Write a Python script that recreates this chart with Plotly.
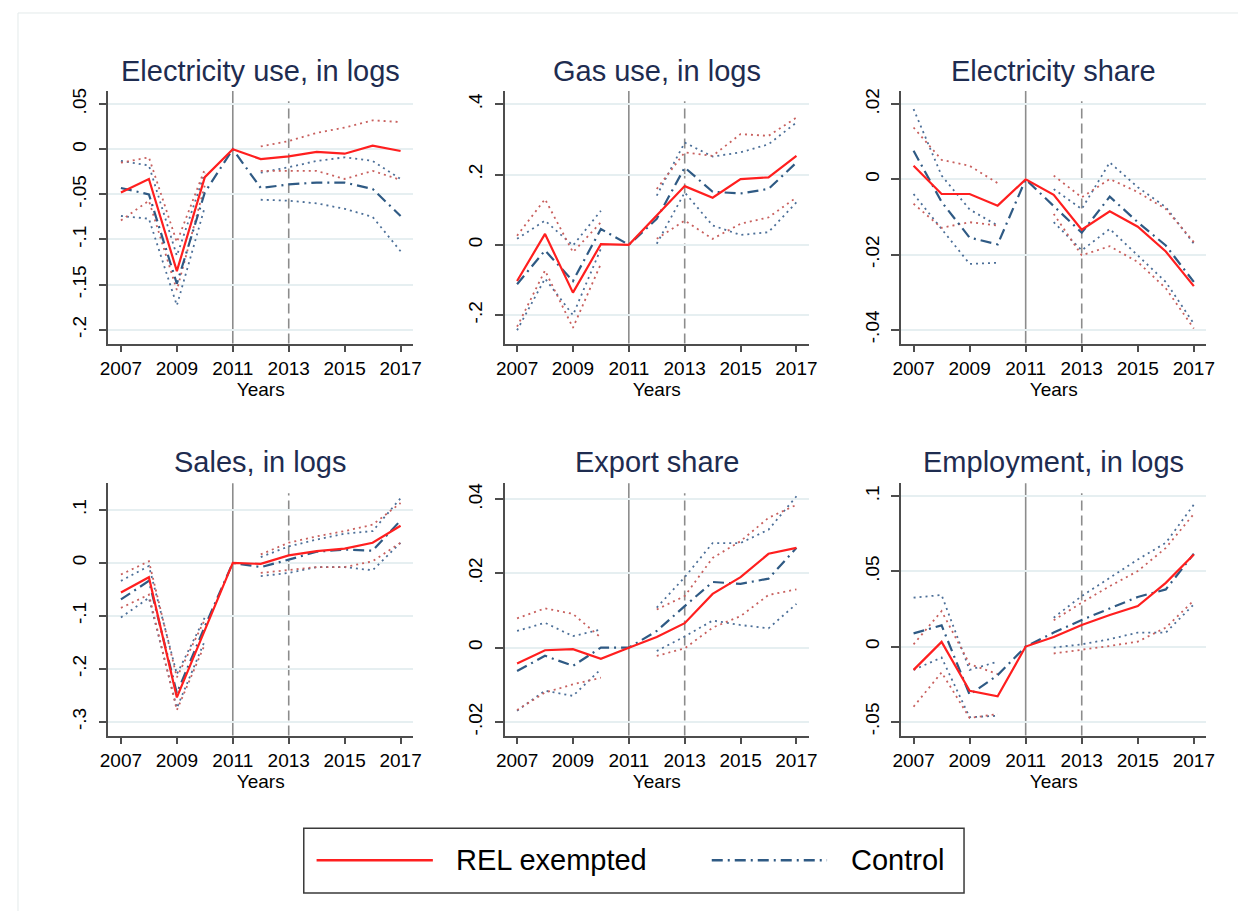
import plotly.graph_objects as go

# ---------------- data ----------------
years = [2007, 2008, 2009, 2010, 2011, 2012, 2013, 2014, 2015, 2016, 2017]
x_tickvals = [2007, 2009, 2011, 2013, 2015, 2017]
x_ticktext = ["2007", "2009", "2011", "2013", "2015", "2017"]

titles = ["Electricity use, in logs", "Gas use, in logs", "Electricity share",
          "Sales, in logs", "Export share", "Employment, in logs"]

# Electricity use
elec_rel = [-0.048, -0.033, -0.135, -0.031, 0, -0.011, -0.008, -0.003, -0.005, 0.004, -0.002]
elec_ctl = [-0.043, -0.050, -0.149, -0.048, 0, -0.043, -0.039, -0.037, -0.037, -0.044, -0.074]
elec_rel_hi = [-0.015, -0.009, -0.103, -0.022, None, 0.003, 0.009, 0.018, 0.024, 0.032, 0.030]
elec_rel_lo = [-0.079, -0.057, -0.156, -0.040, None, -0.024, -0.024, -0.024, -0.033, -0.024, -0.034]
elec_ctl_hi = [-0.013, -0.018, -0.118, -0.026, None, -0.026, -0.020, -0.013, -0.009, -0.013, -0.033]
elec_ctl_lo = [-0.074, -0.077, -0.173, -0.064, None, -0.056, -0.057, -0.060, -0.066, -0.075, -0.113]

# Gas use
gas_rel = [-0.103, 0.031, -0.136, 0.002, 0, 0.083, 0.167, 0.134, 0.187, 0.192, 0.253]
gas_ctl = [-0.112, -0.016, -0.103, 0.045, 0, 0.074, 0.220, 0.151, 0.146, 0.159, 0.234]
gas_rel_hi = [0.026, 0.130, -0.021, 0.064, None, 0.159, 0.263, 0.253, 0.315, 0.310, 0.362]
gas_rel_lo = [-0.233, -0.073, -0.236, -0.054, None, 0.017, 0.069, 0.017, 0.060, 0.078, 0.135]
gas_ctl_hi = [0.017, 0.069, -0.002, 0.097, None, 0.140, 0.291, 0.251, 0.263, 0.286, 0.348]
gas_ctl_lo = [-0.243, -0.096, -0.200, -0.011, None, 0.003, 0.149, 0.055, 0.028, 0.036, 0.121]

# Electricity share
esh_rel = [0.0036, -0.0039, -0.0039, -0.0070, 0, -0.0041, -0.0134, -0.0085, -0.0126, -0.0192, -0.0284]
esh_ctl = [0.0076, -0.0060, -0.0155, -0.0173, 0, -0.0070, -0.0142, -0.0046, -0.0114, -0.0176, -0.0273]
esh_rel_hi = [0.0138, 0.0052, 0.0036, -0.0010, None, 0.0010, -0.0048, 0.0001, -0.0034, -0.0079, -0.0167]
esh_rel_lo = [-0.0065, -0.0129, -0.0114, -0.0123, None, -0.0092, -0.0202, -0.0178, -0.0220, -0.0290, -0.0397]
esh_ctl_hi = [0.0187, 0.0010, -0.0080, -0.0123, None, -0.0026, -0.0079, 0.0045, -0.0021, -0.0074, -0.0171]
esh_ctl_lo = [-0.0039, -0.0132, -0.0225, -0.0222, None, -0.0114, -0.0189, -0.0132, -0.0202, -0.0273, -0.0384]

# Sales
sal_rel = [-0.056, -0.027, -0.254, -0.127, 0, -0.002, 0.014, 0.022, 0.027, 0.038, 0.070]
sal_ctl = [-0.069, -0.034, -0.246, -0.120, 0, -0.008, 0.006, 0.021, 0.025, 0.023, 0.080]
sal_rel_hi = [-0.022, 0.003, -0.216, -0.107, None, 0.016, 0.038, 0.050, 0.060, 0.072, 0.113]
sal_rel_lo = [-0.085, -0.060, -0.278, -0.154, None, -0.019, -0.013, -0.008, -0.008, 0.003, 0.038]
sal_ctl_hi = [-0.034, -0.006, -0.210, -0.103, None, 0.011, 0.031, 0.044, 0.055, 0.060, 0.122]
sal_ctl_lo = [-0.103, -0.066, -0.274, -0.147, None, -0.025, -0.019, -0.008, -0.008, -0.014, 0.038]

# Export share
exp_rel = [-0.0043, -0.0007, -0.0004, -0.0030, 0, 0.0029, 0.0066, 0.0145, 0.0190, 0.0253, 0.0269]
exp_ctl = [-0.0063, -0.0022, -0.0049, 0.0000, 0, 0.0045, 0.0112, 0.0177, 0.0172, 0.0186, 0.0269]
exp_rel_hi = [0.0079, 0.0106, 0.0091, 0.0027, None, 0.0103, 0.0139, 0.0242, 0.0287, 0.0350, 0.0385]
exp_rel_lo = [-0.0168, -0.0121, -0.0099, -0.0081, None, -0.0022, -0.0002, 0.0054, 0.0085, 0.0142, 0.0157]
exp_ctl_hi = [0.0045, 0.0067, 0.0031, 0.0049, None, 0.0108, 0.0190, 0.0282, 0.0282, 0.0318, 0.0408]
exp_ctl_lo = [-0.0170, -0.0116, -0.0130, -0.0058, None, -0.0009, 0.0030, 0.0073, 0.0061, 0.0052, 0.0118]

# Employment
emp_rel = [-0.0155, 0.0031, -0.0294, -0.0331, 0, 0.0064, 0.0144, 0.0210, 0.0270, 0.0424, 0.0612]
emp_ctl = [0.0088, 0.0141, -0.0320, -0.0190, 0, 0.0093, 0.0177, 0.0254, 0.0330, 0.0380, 0.0617]
emp_rel_hi = [0.0015, 0.0236, -0.0117, -0.0183, None, 0.0175, 0.0292, 0.0402, 0.0502, 0.0656, 0.0882]
emp_rel_lo = [-0.0400, -0.0172, -0.0475, -0.0449, None, -0.0046, -0.0022, 0.0004, 0.0033, 0.0126, 0.0307]
emp_ctl_hi = [0.0325, 0.0343, -0.0155, -0.0100, None, 0.0192, 0.0336, 0.0457, 0.0579, 0.0690, 0.0944]
emp_ctl_lo = [-0.0155, -0.0073, -0.0470, -0.0460, None, -0.0007, 0.0015, 0.0049, 0.0093, 0.0093, 0.0281]

y_tickvals = [
    [0.05, 0, -0.05, -0.1, -0.15, -0.2],
    [0.4, 0.2, 0, -0.2],
    [0.02, 0, -0.02, -0.04],
    [0.1, 0, -0.1, -0.2, -0.3],
    [0.04, 0.02, 0, -0.02],
    [0.1, 0.05, 0, -0.05],
]
y_ticktext = [
    [".05", "0", "-.05", "-.1", "-.15", "-.2"],
    [".4", ".2", "0", "-.2"],
    [".02", "0", "-.02", "-.04"],
    [".1", "0", "-.1", "-.2", "-.3"],
    [".04", ".02", "0", "-.02"],
    [".1", ".05", "0", "-.05"],
]
y_ranges = [
    [-0.2153, 0.0644],
    [-0.281, 0.4375],
    [-0.0437, 0.0235],
    [-0.326, 0.1505],
    [-0.0237, 0.04435],
    [-0.0592, 0.1087],
]

panels = [
    (elec_rel, elec_ctl, elec_rel_hi, elec_rel_lo, elec_ctl_hi, elec_ctl_lo),
    (gas_rel, gas_ctl, gas_rel_hi, gas_rel_lo, gas_ctl_hi, gas_ctl_lo),
    (esh_rel, esh_ctl, esh_rel_hi, esh_rel_lo, esh_ctl_hi, esh_ctl_lo),
    (sal_rel, sal_ctl, sal_rel_hi, sal_rel_lo, sal_ctl_hi, sal_ctl_lo),
    (exp_rel, exp_ctl, exp_rel_hi, exp_rel_lo, exp_ctl_hi, exp_ctl_lo),
    (emp_rel, emp_ctl, emp_rel_hi, emp_rel_lo, emp_ctl_hi, emp_ctl_lo),
]

# ---------------- styling ----------------
OFF = 8                      # page body margin offset
W, H = 1246 - OFF, 911 - OFF
FONT = "Liberation Sans, Arial, Helvetica, sans-serif"
RED = "#ff1f1f"
BLUE = "#2f5a84"
RED_DOT = "#c8605e"
BLUE_DOT = "#4c6f98"
AXIS = "#4d4d4d"
GRID = "#e6eff1"
TITLE_C = "#1e2c50"
VLINE = "#8c8c8c"


def px(x):
    return (x - OFF) / W


def py(y):
    return 1 - (y - OFF) / H


col_px = [(100.7, 410.0), (502.7, 811.7), (905.0, 1215.0)]
row_px = [(88.3, 341.7), (481.7, 735.0)]
title_y = [68, 461]

fig = go.Figure()
layout = dict(
    width=W, height=H,
    margin=dict(l=0, r=0, t=0, b=0, pad=0),
    paper_bgcolor="white", plot_bgcolor="white",
    showlegend=False,
    font=dict(family=FONT, color="black"),
)
annotations = []
shapes = []

for i, (rel, ctl, rhi, rlo, chi, clo) in enumerate(panels):
    r, c = divmod(i, 3)
    k = i + 1
    xa = "x" if k == 1 else f"x{k}"
    ya = "y" if k == 1 else f"y{k}"
    for ser, col in ((chi, BLUE_DOT), (clo, BLUE_DOT), (rhi, RED_DOT), (rlo, RED_DOT)):
        fig.add_trace(go.Scatter(x=years, y=ser, mode="lines", xaxis=xa, yaxis=ya,
                                 line=dict(color=col, width=1.8, dash="2px,4px"),
                                 connectgaps=False, hoverinfo="skip"))
    fig.add_trace(go.Scatter(x=years, y=ctl, mode="lines", xaxis=xa, yaxis=ya,
                             name="Control",
                             line=dict(color=BLUE, width=2.2, dash="11px,5px,2px,5px")))
    fig.add_trace(go.Scatter(x=years, y=rel, mode="lines", xaxis=xa, yaxis=ya,
                             name="REL exempted",
                             line=dict(color=RED, width=2.2)))

    x0, x1 = col_px[c]
    y0, y1 = row_px[r]
    layout["xaxis" + ("" if k == 1 else str(k))] = dict(
        domain=[px(x0), px(x1)], anchor=ya, range=[2006.55, 2017.45],
        tickvals=x_tickvals, ticktext=x_ticktext, ticks="outside", ticklen=7,
        tickwidth=1.5, tickcolor=AXIS, showline=True, linecolor=AXIS, linewidth=1.6,
        showgrid=False, zeroline=False, tickfont=dict(size=19, color="black"),
        title=dict(text="Years", font=dict(size=19, color="black"), standoff=2),
        fixedrange=True,
    )
    layout["yaxis" + ("" if k == 1 else str(k))] = dict(
        domain=[py(y1), py(y0)], anchor=xa, range=y_ranges[i],
        tickvals=y_tickvals[i], ticktext=y_ticktext[i], ticks="outside", ticklen=8,
        ticklabelstandoff=5,
        tickwidth=1.5, tickcolor=AXIS, showline=True, linecolor=AXIS, linewidth=1.6,
        showgrid=True, gridcolor=GRID, gridwidth=1.6, zeroline=False,
        tickangle=-90, tickfont=dict(size=19, color="black"), fixedrange=True,
    )
    annotations.append(dict(
        text=titles[i], xref="paper", yref="paper", x=px((x0 + x1) / 2), y=py(title_y[r]),
        xanchor="center", yanchor="middle", showarrow=False,
        font=dict(size=29, color=TITLE_C, family=FONT)))
    shapes.append(dict(type="line", xref=xa, yref=f"{ya} domain", x0=2011, x1=2011, y0=0, y1=1,
                       line=dict(color=VLINE, width=1.6), layer="below"))
    shapes.append(dict(type="line", xref=xa, yref=f"{ya} domain", x0=2013, x1=2013, y0=0, y1=0.96,
                       line=dict(color=VLINE, width=1.6, dash="10px,5px"), layer="below"))

# outer faint frame
shapes.append(dict(type="rect", xref="paper", yref="paper", x0=px(9), x1=px(1300), y0=py(1000), y1=py(10),
                   line=dict(color="#e3eaea", width=1), fillcolor="rgba(0,0,0,0)", layer="below"))

# legend box (drawn manually to match the long key samples)
leg_y = 860
shapes.append(dict(type="rect", xref="paper", yref="paper", x0=px(299), x1=px(969), y0=py(893), y1=py(828),
                   line=dict(color="#3a3a3a", width=1.5), fillcolor="rgba(0,0,0,0)", layer="above"))
shapes.append(dict(type="line", xref="paper", yref="paper", x0=px(312), x1=px(430), y0=py(leg_y), y1=py(leg_y),
                   line=dict(color=RED, width=2.5), layer="above"))
shapes.append(dict(type="line", xref="paper", yref="paper", x0=px(713), x1=px(830), y0=py(leg_y), y1=py(leg_y),
                   line=dict(color=BLUE, width=2.5, dash="11px,5px,2px,5px"), layer="above"))
annotations.append(dict(text="REL exempted", xref="paper", yref="paper", x=px(451), y=py(leg_y),
                        xanchor="left", yanchor="middle", showarrow=False,
                        font=dict(size=29, color="black", family=FONT)))
annotations.append(dict(text="Control", xref="paper", yref="paper", x=px(852), y=py(leg_y),
                        xanchor="left", yanchor="middle", showarrow=False,
                        font=dict(size=29, color="black", family=FONT)))

layout["annotations"] = annotations
layout["shapes"] = shapes
fig.update_layout(**layout)

fig.write_html("out.html")
